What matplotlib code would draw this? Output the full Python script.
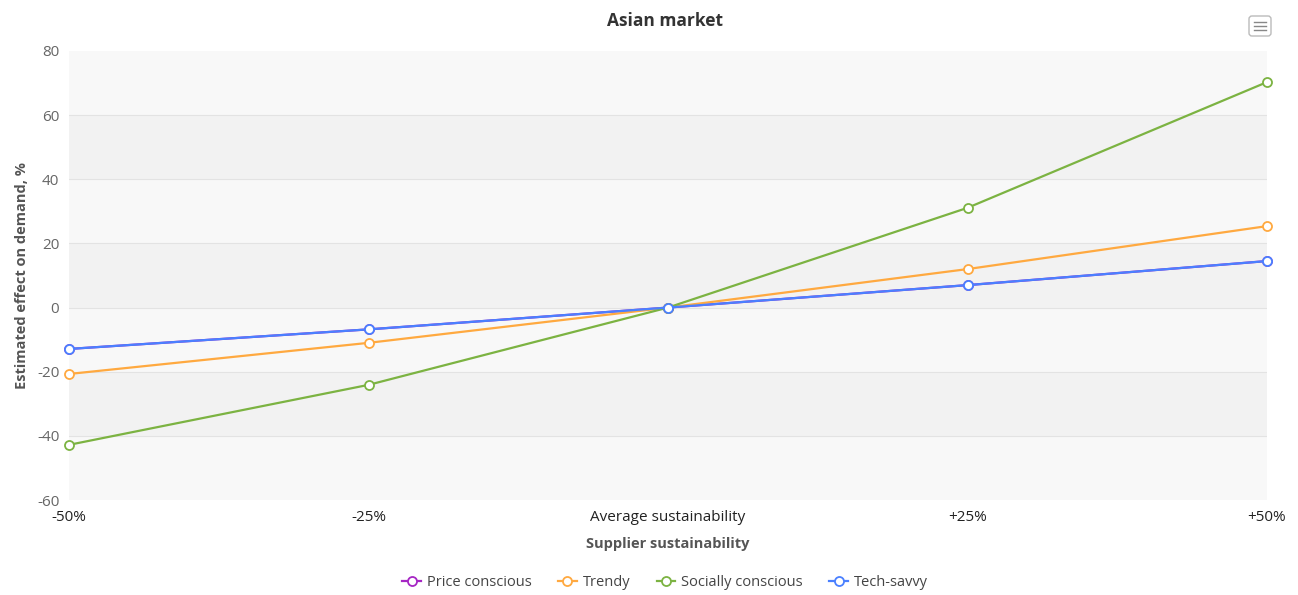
import matplotlib.pyplot as plt
from matplotlib.patches import FancyBboxPatch
from matplotlib.lines import Line2D

plt.rcParams['font.family'] = ['Open Sans', 'DejaVu Sans']
plt.rcParams['axes.unicode_minus'] = False

categories = ['-50%', '-25%', 'Average sustainability', '+25%', '+50%']
price_conscious = [-12.9, -6.8, 0, 7.0, 14.5]
trendy = [-20.7, -11.0, 0, 12.0, 25.4]
socially_conscious = [-42.8, -24.1, 0, 31.1, 70.3]
tech_savvy = [-12.9, -6.8, 0, 7.0, 14.5]

series = [
    ('Price conscious', price_conscious, '#a626c4'),
    ('Trendy', trendy, '#ffa940'),
    ('Socially conscious', socially_conscious, '#7cb342'),
    ('Tech-savvy', tech_savvy, '#4a80ff'),
]

fig = plt.figure(figsize=(12.98, 5.95), dpi=100)
ax = fig.add_axes([69 / 1298, 95 / 595, 1198 / 1298, 449 / 595])

# alternating bands
yticks = list(range(-60, 81, 20))
for i, (lo, hi) in enumerate(zip(yticks[:-1], yticks[1:])):
    ax.axhspan(lo, hi, color='#f2f2f2' if i % 2 == 1 else '#f8f8f8', lw=0, zorder=0)
for y in yticks[1:-1]:
    ax.axhline(y, color='#e3e3e3', lw=0.8, zorder=1)

x = list(range(len(categories)))
for name, vals, color in series:
    ax.plot(x, vals, color=color, lw=1.6, marker='o', ms=6.5,
            mfc='white', mec=color, mew=1.3, zorder=3, clip_on=False)

ax.set_xlim(0, len(categories) - 1)
ax.set_ylim(-60, 80)
ax.set_yticks(yticks)
ax.set_xticks(x)
ax.set_xticklabels(categories)
ax.tick_params(axis='y', length=0, labelsize=11, labelcolor='#666666', pad=7)
ax.tick_params(axis='x', length=0, labelsize=11, labelcolor='#222222', pad=7)
for s in ax.spines.values():
    s.set_visible(False)

ax.set_xlabel('Supplier sustainability', fontsize=10.5, fontweight='bold',
              color='#555555', labelpad=9)
ax.set_ylabel('Estimated effect on demand, %', fontsize=10.5, fontweight='bold',
              color='#555555', labelpad=6)
fig.text(665 / 1298, 1 - 21 / 595, 'Asian market', ha='center', va='center',
         fontsize=12.5, fontweight='bold', color='#333333')

# menu button
bx = fig.add_axes([1248 / 1298, 1 - 37 / 595, 24 / 1298, 22 / 595])
bx.set_xlim(0, 24)
bx.set_ylim(0, 22)
bx.axis('off')
bx.add_patch(FancyBboxPatch((1, 1), 22, 20, boxstyle='round,pad=0,rounding_size=3',
                            fc='white', ec='#bbbbbb', lw=1.0))
for yy in (7, 11, 15):
    bx.plot([6, 18], [yy, yy], color='#888888', lw=1.0)

handles = [Line2D([0], [0], color=c, lw=1.6, marker='o', ms=6.5, mfc='white',
                  mec=c, mew=1.3) for _, _, c in series]
fig.legend(handles, [n for n, _, _ in series], loc='center',
           bbox_to_anchor=(665 / 1298, 1 - 583 / 595), ncol=4, frameon=False,
           fontsize=10.5, handlelength=1.3, columnspacing=1.8, handletextpad=0.4,
           labelcolor='#444444')

fig.savefig('out.png', dpi=100, facecolor='white')
